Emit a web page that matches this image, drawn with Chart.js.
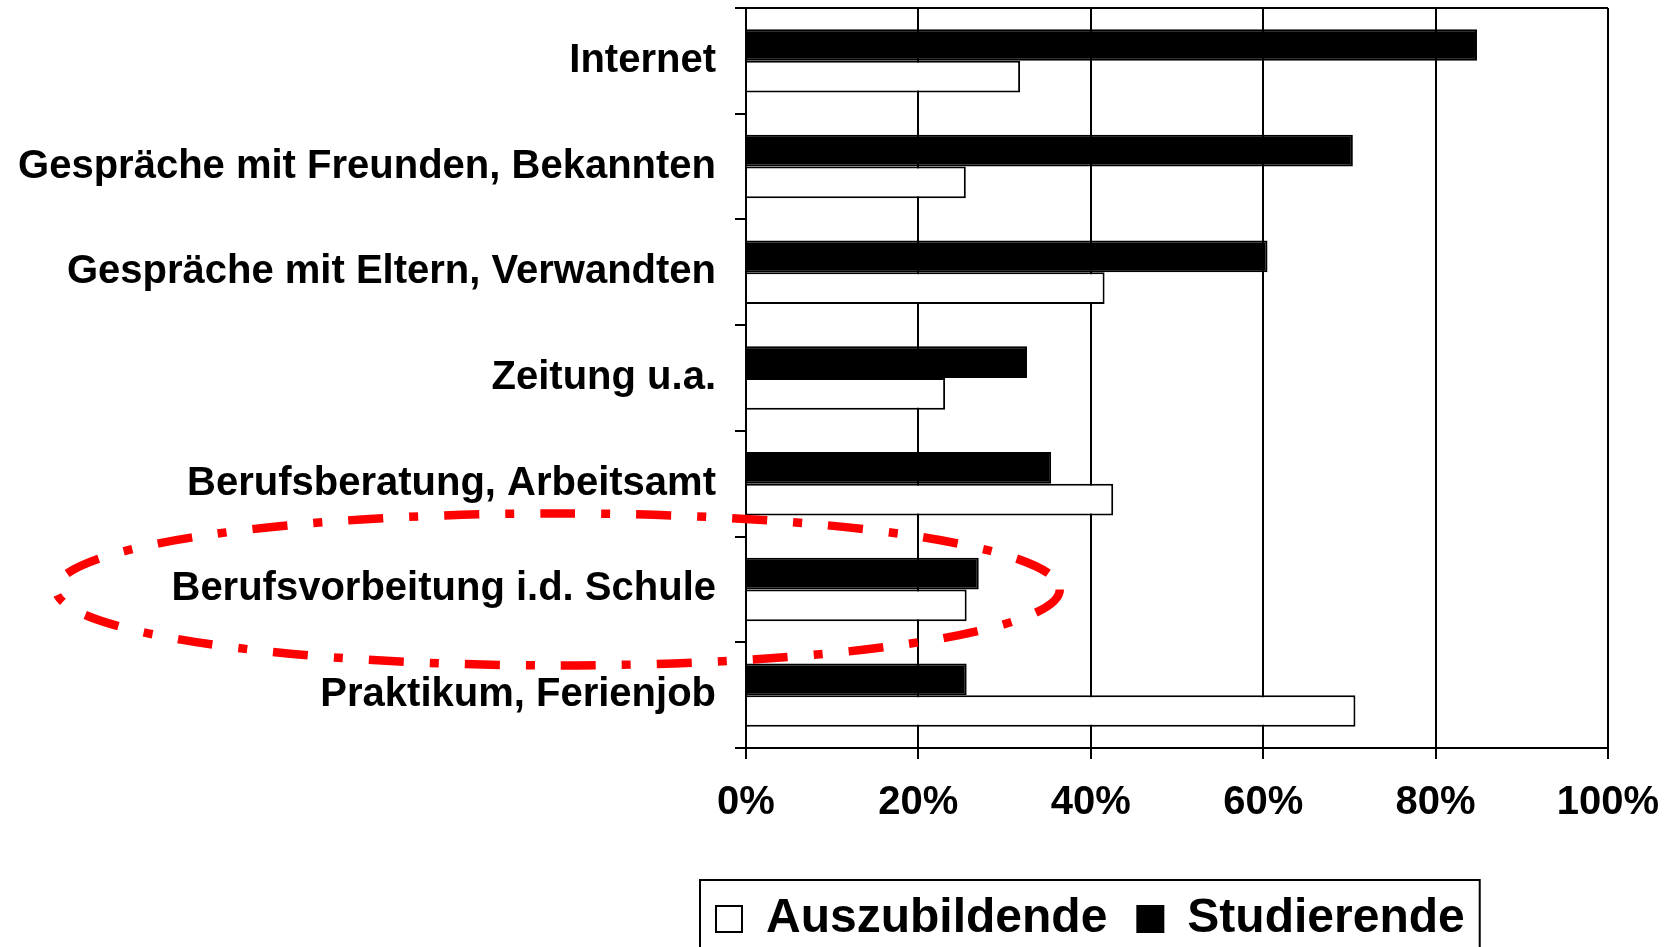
<!DOCTYPE html>
<html>
<head>
<meta charset="utf-8">
<title>Informationsquellen zur Berufswahl</title>
<script src="https://cdn.jsdelivr.net/npm/chart.js@4.4.0/dist/chart.umd.min.js"></script>
<style>
  html, body { margin: 0; padding: 0; background: #fff; }
  #wrap { width: 1671px; height: 947px; }
</style>
</head>
<body>
<div id="wrap"><canvas id="chart"></canvas></div>
<script>
// Informationsquellen - Anteil in %
const categories = [
  'Internet',
  'Gespräche mit Freunden, Bekannten',
  'Gespräche mit Eltern, Verwandten',
  'Zeitung u.a.',
  'Berufsberatung, Arbeitsamt',
  'Berufsvorbeitung i.d. Schule',
  'Praktikum, Ferienjob'
];
const studierende = [84.8, 70.4, 60.5, 32.6, 35.4, 27.0, 25.6];
const auszubildende = [31.8, 25.5, 41.6, 23.1, 42.6, 25.6, 70.7];
const xTicks = [0, 20, 40, 60, 80, 100];

const FONT = "'Liberation Sans', Arial, sans-serif";

// Rahmen oben, Legendenrahmen und die rote Markierung
const extras = {
  id: 'extras',
  afterLayout(chart) {
    const lg = chart.legend;
    if (!lg || !lg.lineWidths) return;
    const pad = lg.options.labels.padding;
    const start = (lg.left + pad + lg.right - lg.lineWidths[0]) / 2;
    const dx = 716 - start;
    lg.left += dx;
    lg.right += dx;
    const dy = 865 - lg.top;
    lg.top += dy;
    lg.bottom += dy;
  },
  afterDraw(chart) {
    const ctx = chart.ctx;
    const area = chart.chartArea;
    ctx.save();
    ctx.strokeStyle = '#000';
    ctx.lineWidth = 2;
    ctx.beginPath();
    ctx.moveTo(area.left - 11, area.top);
    ctx.lineTo(area.right, area.top);
    ctx.stroke();

    const hb = chart.legend.legendHitBoxes;
    if (hb && hb.length) {
      const first = hb[0], last = hb[hb.length - 1];
      const left = first.left - 16;
      const right = last.left + last.width + 15;
      const top = first.top + first.height / 2 - 39;
      ctx.strokeRect(left, top, right - left, chart.height - top + 10);
    }

    const xs = chart.scales.x, ys = chart.scales.y;
    const cy = ys.getPixelForValue(5);
    const r = xs.getPixelForValue(36.4);
    const l = area.left - 690;
    ctx.strokeStyle = '#ff0000';
    ctx.lineWidth = 8.5;
    ctx.setLineDash([35, 26, 9, 26]);
    ctx.beginPath();
    ctx.ellipse((l + r) / 2, cy, (r - l) / 2, 76, 0, 0, Math.PI * 2);
    ctx.stroke();
    ctx.restore();
  }
};

const chart = new Chart(document.getElementById('chart'), {
  type: 'bar',
  data: {
    labels: categories,
    datasets: [
      {
        label: 'Studierende',
        data: studierende,
        backgroundColor: '#000',
        borderColor: '#000',
        borderWidth: 2
      },
      {
        label: 'Auszubildende',
        data: auszubildende,
        backgroundColor: '#fff',
        borderColor: '#000',
        borderWidth: 2
      }
    ]
  },
  options: {
    indexAxis: 'y',
    responsive: true,
    maintainAspectRatio: false,
    animation: false,
    datasets: { bar: { categoryPercentage: 0.6, barPercentage: 1.0 } },
    layout: { padding: { top: 8, right: 63, bottom: 0, left: 0 } },
    plugins: {
      tooltip: { enabled: false },
      legend: {
        position: 'bottom',
        reverse: true,
        labels: {
          color: '#000',
          font: { family: FONT, size: 48, weight: 'bold' },
          boxWidth: 26,
          boxHeight: 26,
          padding: 30
        }
      }
    },
    scales: {
      x: {
        min: 0,
        max: 100,
        afterBuildTicks: s => { s.ticks = xTicks.map(v => ({ value: v })); },
        afterFit: s => {
          s.height = 947 - 748 - s.chart.legend.height;
          s.paddingLeft = 0;
          s.paddingRight = 0;
        },
        border: { color: '#000', width: 2 },
        grid: { color: '#000', lineWidth: 2, tickLength: 11 },
        ticks: {
          color: '#000',
          padding: 20,
          maxRotation: 0,
          font: { family: FONT, size: 40, weight: 'bold' },
          callback: v => v + '%'
        }
      },
      y: {
        afterFit: s => {
          s.width = 746;
          s.paddingTop = 0;
          s.paddingBottom = 0;
        },
        border: { color: '#000', width: 2 },
        grid: { drawOnChartArea: false, offset: true, color: '#000', lineWidth: 2, tickLength: 11 },
        ticks: {
          color: '#000',
          padding: 19,
          font: { family: FONT, size: 40, weight: 'bold' }
        }
      }
    }
  },
  plugins: [extras]
});
</script>
</body>
</html>
